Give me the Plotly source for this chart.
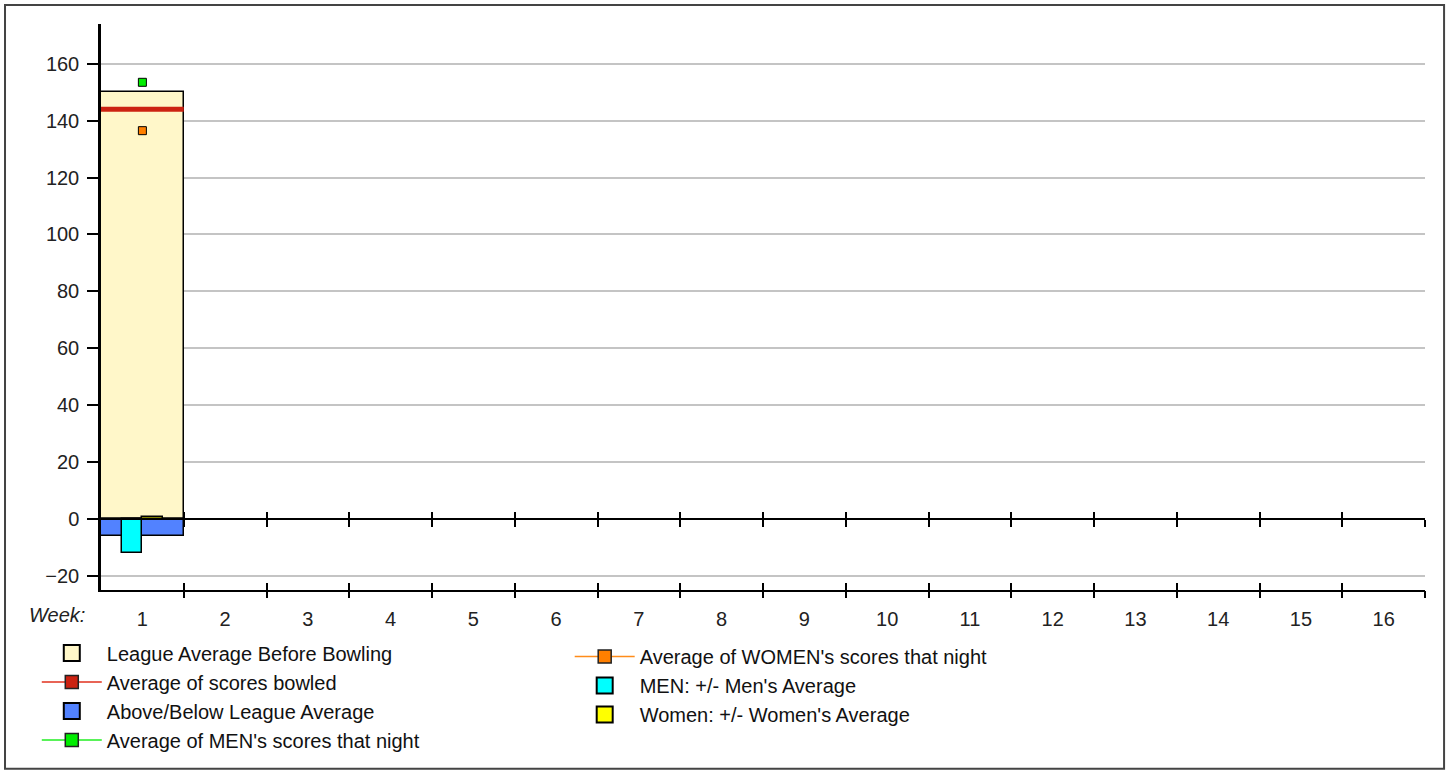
import plotly.graph_objects as go

# ---------------- data ----------------
weeks = list(range(1, 17))
week_labels = [str(w) for w in weeks]
data_weeks = [1]
league_avg_before = [150]
avg_scores_bowled = [144]
above_below = [-6]
men_night_avg = [153.5]
women_night_avg = [136.5]
men_plus_minus = [-12]
women_plus_minus = [0.6]

Y_MIN, Y_MAX = -25, 174
FONT = "Liberation Sans, Arial, sans-serif"

# series styles
C_LEAGUE, C_ABOVE, C_MEN_PM, C_WOMEN_PM = "#FFF7C9", "#5282FF", "#00FFFF", "#FFFF00"
C_AVG, C_MEN, C_WOMEN = "#CC2211", "#00EE00", "#FF7F00"

fig = go.Figure()

# ---- data marks ----
fig.add_trace(go.Bar(
    x=data_weeks, y=league_avg_before, base=0, width=1.0, showlegend=False,
    name="League Average Before Bowling",
    marker=dict(color=C_LEAGUE, line=dict(color="black", width=1.5)),
))
fig.add_trace(go.Bar(
    x=data_weeks, y=above_below, base=0, width=1.0, showlegend=False,
    name="Above/Below League Average",
    marker=dict(color=C_ABOVE, line=dict(color="black", width=1.5)),
))
fig.add_trace(go.Bar(
    x=data_weeks, y=men_plus_minus, base=0, width=0.25, offset=-0.25, showlegend=False,
    name="MEN: +/- Men's Average",
    marker=dict(color=C_MEN_PM, line=dict(color="black", width=1.5)),
))
fig.add_trace(go.Bar(
    x=data_weeks, y=women_plus_minus, base=0, width=0.25, offset=0, showlegend=False,
    name="Women: +/- Women's Average",
    marker=dict(color=C_WOMEN_PM, line=dict(color="black", width=1.5)),
))

# red "average of scores bowled" segment spanning the week's category
seg_x, seg_y = [], []
for w, v in zip(data_weeks, avg_scores_bowled):
    seg_x += [w - 0.5, w + 0.5, None]
    seg_y += [v, v, None]
fig.add_trace(go.Scatter(
    x=seg_x, y=seg_y, mode="lines", showlegend=False,
    name="Average of scores bowled",
    line=dict(color=C_AVG, width=5),
))
fig.add_trace(go.Scatter(
    x=data_weeks, y=men_night_avg, mode="markers", showlegend=False,
    name="Average of MEN's scores that night",
    marker=dict(symbol="square", size=8, color=C_MEN, line=dict(color="black", width=1)),
))
fig.add_trace(go.Scatter(
    x=data_weeks, y=women_night_avg, mode="markers", showlegend=False,
    name="Average of WOMEN's scores that night",
    marker=dict(symbol="square", size=8, color=C_WOMEN, line=dict(color="black", width=1)),
))

# ---- legend entries (no data drawn) ----
def swatch(name, color, legend):
    return go.Scatter(x=[None], y=[None], mode="markers", name=name, legend=legend,
                      marker=dict(symbol="square", size=16, color=color,
                                  line=dict(color="black", width=2)))

def line_marker(name, lcolor, mcolor, legend):
    return go.Scatter(x=[None], y=[None], mode="lines+markers", name=name, legend=legend,
                      line=dict(color=lcolor, width=1.5),
                      marker=dict(symbol="square", size=13, color=mcolor,
                                  line=dict(color="#222", width=1.5)))

fig.add_trace(swatch("League Average Before Bowling", C_LEAGUE, "legend"))
fig.add_trace(line_marker("Average of scores bowled", "#E0301E", C_AVG, "legend"))
fig.add_trace(swatch("Above/Below League Average", C_ABOVE, "legend"))
fig.add_trace(line_marker("Average of MEN's scores that night", "#22EE22", C_MEN, "legend"))
fig.add_trace(line_marker("Average of WOMEN's scores that night", "#FF8C1A", C_WOMEN, "legend2"))
fig.add_trace(swatch("MEN: +/- Men's Average", C_MEN_PM, "legend2"))
fig.add_trace(swatch("Women: +/- Women's Average", C_WOMEN_PM, "legend2"))

boundaries = [w + 0.5 for w in weeks]
zero_pos = (0 - Y_MIN) / (Y_MAX - Y_MIN)

common_x = dict(range=[0.5, 16.5], showgrid=False, zeroline=False, fixedrange=True)

fig.update_layout(
    width=1449, height=772,
    margin=dict(l=101, r=24, t=24, b=182),
    paper_bgcolor="white", plot_bgcolor="white",
    font=dict(family=FONT, size=21, color="#222"),
    barmode="overlay",
    bargap=0,
    xaxis=dict(**common_x, tickvals=weeks, ticktext=week_labels, ticks="",
               showline=True, linecolor="black", linewidth=2,
               ticklabelstandoff=10, tickfont=dict(size=20, color="#222")),
    xaxis2=dict(**common_x, overlaying="x", matches="x", anchor="y", side="bottom",
                tickvals=boundaries, ticks="outside", ticklen=7, tickwidth=1.5,
                tickcolor="black", showticklabels=False, showline=False),
    xaxis3=dict(**common_x, overlaying="x", matches="x", anchor="y", side="bottom",
                tickvals=boundaries, ticks="inside", ticklen=7, tickwidth=1.5,
                tickcolor="black", showticklabels=False, showline=False),
    xaxis4=dict(**common_x, overlaying="x", matches="x", anchor="free", position=zero_pos,
                side="bottom", tickvals=boundaries, ticks="outside", ticklen=7, tickwidth=1.5,
                tickcolor="black", showticklabels=False, showline=True,
                linecolor="black", linewidth=2),
    xaxis5=dict(**common_x, overlaying="x", matches="x", anchor="free", position=zero_pos,
                side="bottom", tickvals=boundaries, ticks="inside", ticklen=7, tickwidth=1.5,
                tickcolor="black", showticklabels=False, showline=False),
    yaxis=dict(range=[Y_MIN, Y_MAX], tickvals=list(range(-20, 161, 20)),
               ticks="outside", ticklen=11, tickwidth=2, tickcolor="black",
               showline=True, linecolor="black", linewidth=2.5,
               showgrid=True, gridcolor="#C4C4C4", gridwidth=1.5,
               zeroline=False, ticklabelstandoff=4, fixedrange=True,
               tickfont=dict(size=20, color="#222")),
    legend=dict(x=-0.0485, y=-0.077, xanchor="left", yanchor="top",
                orientation="v", font=dict(size=20, color="#111"),
                itemsizing="trace", itemwidth=60, tracegroupgap=0,
                bgcolor="rgba(0,0,0,0)", traceorder="normal"),
    legend2=dict(x=0.354, y=-0.083, xanchor="left", yanchor="top",
                 orientation="v", font=dict(size=20, color="#111"),
                 itemsizing="trace", itemwidth=60, tracegroupgap=0,
                 bgcolor="rgba(0,0,0,0)", traceorder="normal"),
    annotations=[dict(text="<i>Week:</i>", xref="paper", yref="paper",
                      x=-0.056, y=-0.044, xanchor="left", yanchor="middle",
                      showarrow=False, font=dict(size=20, color="#222"))],
    shapes=[dict(type="rect", xref="paper", yref="paper",
                 x0=-0.0725, x1=1.0144, y0=-0.316, y1=1.0336,
                 line=dict(color="#444", width=2), fillcolor="rgba(0,0,0,0)", layer="below")],
)

# empty helper traces so the overlay tick axes are drawn
for ax in ["x2", "x3", "x4", "x5"]:
    fig.add_trace(go.Scatter(x=[], y=[], xaxis=ax, yaxis="y", showlegend=False, hoverinfo="skip"))

fig.write_html("out.html", config={"displayModeBar": False},
               post_script="document.body.style.margin='0px';")
